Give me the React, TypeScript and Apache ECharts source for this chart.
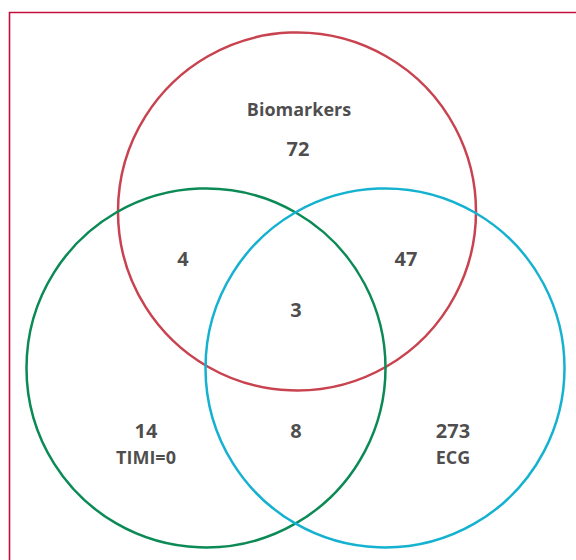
import React, { useEffect, useRef } from "react";
import * as echarts from "echarts";

// Sets: [name, centre x, centre y, radius] in diagram units (y grows downward)
const setNames = ["Biomarkers", "TIMI=0", "ECG"];
const setCentres: [number, number][] = [
  [297, 211.5],
  [206, 368],
  [385, 368],
];
const setRadii = [179, 179.5, 179.5];
const setColors = ["#c8434f", "#0b8a56", "#14b2d0"];

// Region counts and their label anchors
const regionCounts = [72, 4, 47, 3, 14, 8, 273];
const regionAnchors: [number, number][] = [
  [298, 148],
  [183, 258],
  [406, 258],
  [296, 309],
  [146, 430],
  [296, 430],
  [453, 430],
];

// Set name labels
const nameAnchors: [number, number][] = [
  [299, 109],
  [146, 457],
  [453, 457],
];

export default function App() {
  const ref = useRef<HTMLDivElement>(null);
  useEffect(() => {
    document.body.style.margin = "0";
    const chart = echarts.init(ref.current!, null, { renderer: "svg" });
    const textStyle = {
      color: "#1e1c1d",
      fontFamily: "'Open Sans', sans-serif",
      fontWeight: 700,
      fontSize: 18,
    };
    chart.setOption({
      animation: false,
      backgroundColor: "#ffffff",
      grid: { left: 0, top: 0, width: 576, height: 560 },
      xAxis: { type: "value", min: 0, max: 576, show: false },
      yAxis: { type: "value", min: 0, max: 560, inverse: true, show: false },
      graphic: [
        {
          type: "polyline",
          shape: { points: [[9.5, 580], [9.5, 12.5], [600, 12.5]] },
          style: { stroke: "#c20f3e", lineWidth: 1.6, fill: null },
          silent: true,
        },
      ],
      series: [
        {
          type: "custom",
          coordinateSystem: "cartesian2d",
          data: setCentres.map((c, i) => [c[0], c[1], setRadii[i], i]),
          renderItem: (params: any, api: any) => {
            const p = api.coord([api.value(0), api.value(1)]);
            const r = api.size([api.value(2), 0])[0];
            const i = api.value(3);
            return {
              type: "circle",
              shape: { cx: p[0], cy: p[1], r },
              style: { fill: "none", stroke: setColors[i], lineWidth: 2.5 },
            };
          },
          silent: true,
        },
        {
          type: "scatter",
          symbolSize: 0,
          data: regionAnchors.map((a, i) => ({ value: a, name: String(regionCounts[i]) })),
          label: {
            show: true,
            position: "inside",
            formatter: (p: any) => p.name,
            ...textStyle,
            fontSize: 20,
          },
          silent: true,
        },
        {
          type: "scatter",
          symbolSize: 0,
          data: nameAnchors.map((a, i) => ({ value: a, name: setNames[i] })),
          label: {
            show: true,
            position: "inside",
            formatter: (p: any) => p.name,
            ...textStyle,
          },
          silent: true,
        },
      ],
    });
    return () => chart.dispose();
  }, []);
  return <div ref={ref} style={{ width: 576, height: 560 }} />;
}
